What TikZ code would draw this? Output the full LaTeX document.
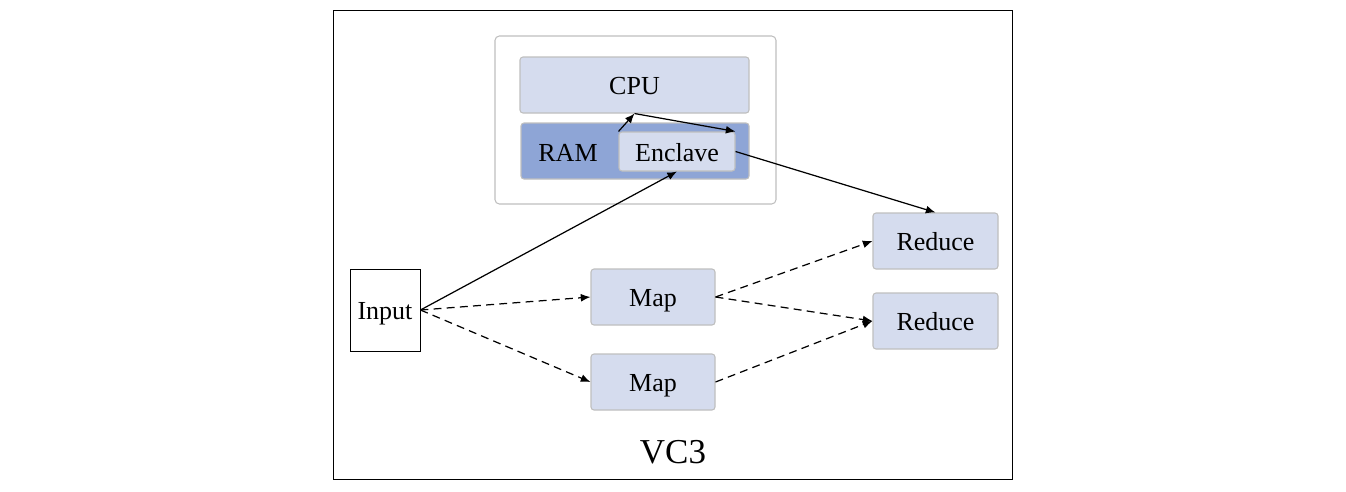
\documentclass[tikz,border=0pt]{standalone}
\usepackage{fontspec}
\setmainfont{Liberation Serif}
\usepackage{tikz}
\usetikzlibrary{arrows.meta}

\definecolor{hellblau}{HTML}{D5DCEE}
\definecolor{dunkelblau}{HTML}{8EA5D6}
\definecolor{rahmengrau}{HTML}{BFBFBF}

\tikzset{
	schrift/.style={font=\fontsize{14.8}{16}\selectfont, text height=11pt, text depth=0pt},
	kasten/.style={schrift, draw=rahmengrau, fill=hellblau, rounded corners=1.7pt, line width=0.6pt, inner sep=0pt},
	pfeil/.style={-{Latex[length=5.5pt, width=4.5pt]}, line width=0.7pt},
	strichpfeil/.style={pfeil, dash pattern=on 4.5pt off 3pt}
}

\begin{document}
\begin{tikzpicture}
		[
		x=0.02cm, y=-0.02cm
		%Pixelraster wie im Bild
		]
		
		\useasboundingbox (0,0) rectangle (1346,491);
		
		%Rahmen aussen
		\draw[line width=0.5pt] (333,10) rectangle (1012,479);
		
		%Rechner mit CPU und RAM
		\draw[draw=rahmengrau, fill=white, rounded corners=2.5pt, line width=0.6pt] (495,36) rectangle (776,204);
		\node[kasten, minimum width=229*0.02cm, minimum height=56*0.02cm] (cpu) at (634.5,85) {CPU};
		\node[kasten, fill=dunkelblau, minimum width=228*0.02cm, minimum height=56*0.02cm] (ram) at (635,151) {};
		\node[schrift] (ramtext) at (568,152) {RAM};
		\node[kasten, minimum width=116*0.02cm, minimum height=39*0.02cm] (enclave) at (677,151.5) {Enclave};
		
		%Eingabe
		\node[schrift, draw, fill=white, line width=0.5pt, minimum width=70*0.02cm, minimum height=82*0.02cm, inner sep=0pt] (input) at (385,310) {Input};
		
		%Map und Reduce
		\node[kasten, minimum width=124*0.02cm, minimum height=56*0.02cm] (map1) at (653,297) {Map};
		\node[kasten, minimum width=124*0.02cm, minimum height=56*0.02cm] (map2) at (653,382) {Map};
		\node[kasten, minimum width=125*0.02cm, minimum height=56*0.02cm] (reduce1) at (935.5,241) {Reduce};
		\node[kasten, minimum width=125*0.02cm, minimum height=56*0.02cm] (reduce2) at (935.5,321) {Reduce};
		
		\node[font=\fontsize{19.9}{22}\selectfont] (vc) at (673,452) {VC3};
		
		%Pfeile durchgezogen
		\draw[pfeil] (input.east) -- (enclave.south);
		\draw[pfeil] (enclave.north west) -- (cpu.south);
		\draw[pfeil] (cpu.south) -- (enclave.north east);
		\draw[pfeil] (enclave.east) -- (reduce1.north);
		
		%Pfeile gestrichelt
		\draw[strichpfeil] (input.east) -- (map1.west);
		\draw[strichpfeil] (input.east) -- (map2.west);
		\draw[strichpfeil] (map1.east) -- (reduce1.west);
		\draw[strichpfeil] (map1.east) -- (reduce2.west);
		\draw[strichpfeil] (map2.east) -- (reduce2.west);
		
\end{tikzpicture}
\end{document}
